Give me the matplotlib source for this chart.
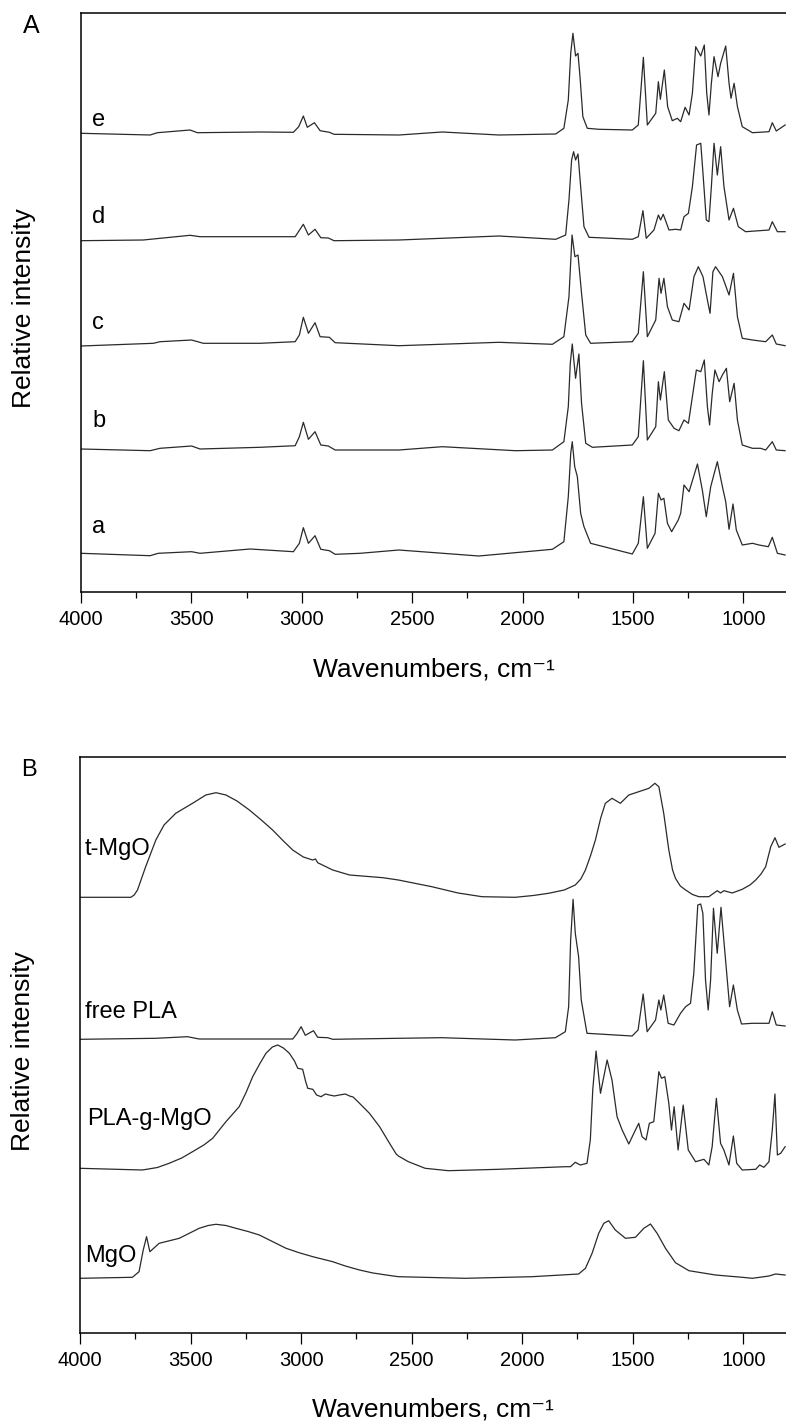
import numpy as np
import matplotlib.pyplot as plt
from matplotlib.ticker import MultipleLocator

plt.rcParams['font.family'] = ['Liberation Sans', 'DejaVu Sans']

# FTIR spectra, (wavenumber cm-1, stacked intensity a.u.)
# Panel A: PLA samples a-e
spec_a = [(4000, 38.7), (3687, 36.3), (3650, 38.7), (3499, 40.3), (3461, 38.7), (3234, 43), (3038, 40.3),
          (3011, 48.7), (2993, 64.3), (2970, 48.7), (2940, 56.3), (2914, 42.7), (2875, 41.3), (2849, 37.7),
          (2736, 38.7), (2560, 42), (2198, 36), (1865, 42.7), (1813, 50.3), (1793, 95.3), (1782, 138.7),
          (1775, 150.3), (1764, 125.3), (1752, 115.3), (1737, 78.7), (1722, 65.3), (1692, 48.7), (1503, 38),
          (1476, 48.7), (1453, 95.3), (1435, 43.7), (1400, 58.7), (1385, 98.7), (1373, 92), (1360, 93.7),
          (1344, 68.7), (1325, 60.3), (1295, 72), (1284, 78.7), (1269, 107), (1246, 100.3), (1208, 128),
          (1186, 102), (1168, 75.3), (1148, 105.3), (1118, 130.3), (1095, 105.3), (1080, 90.3), (1065, 62.7),
          (1047, 88), (1032, 62), (1005, 47), (959, 48.7), (929, 47), (887, 45.3), (869, 54.7), (846, 38.7),
          (811, 37)]
spec_b = [(4000, 143), (3687, 141.3), (3642, 143.7), (3499, 146), (3461, 143), (3189, 144.7), (3030, 146.3),
          (3011, 155.3), (2993, 169.7), (2970, 152.7), (2940, 160.3), (2914, 147), (2880, 146), (2849, 142),
          (2560, 142), (2364, 145.3), (2032, 141.3), (1865, 142), (1813, 150.3), (1793, 185.3), (1784, 228.7),
          (1775, 248), (1760, 213.7), (1745, 238), (1733, 188.7), (1714, 148.7), (1684, 144.7), (1503, 147),
          (1476, 155.3), (1453, 231.3), (1435, 152), (1397, 165.3), (1385, 210.3), (1376, 192), (1358, 220.3),
          (1340, 172), (1314, 163.7), (1292, 161.3), (1269, 172), (1249, 168.7), (1231, 195.3), (1213, 222),
          (1193, 220.3), (1177, 232), (1163, 185.3), (1153, 167), (1141, 198.7), (1129, 222), (1110, 210.3),
          (1095, 217), (1077, 223.7), (1062, 190.3), (1042, 208.7), (1027, 172), (1005, 147), (959, 143.7),
          (922, 143.7), (899, 142), (869, 150.3), (851, 142), (811, 141.3)]
spec_c = [(4000, 246), (3672, 248.7), (3642, 250.3), (3499, 252), (3446, 248.7), (3189, 248.7), (3030, 250.3),
          (3011, 257), (2993, 274.7), (2970, 258.7), (2940, 269.3), (2917, 255.3), (2875, 254.7), (2849, 249.3),
          (2560, 246.3), (2107, 249.7), (1865, 247.7), (1813, 255.3), (1790, 295.3), (1776, 357), (1763, 335.3),
          (1749, 337), (1733, 298.7), (1714, 257), (1692, 248.7), (1503, 250.3), (1476, 258.7), (1453, 320.3),
          (1435, 255.3), (1397, 272), (1382, 313.7), (1373, 298.7), (1360, 313.7), (1344, 285.3), (1322, 272),
          (1292, 270.3), (1269, 288.7), (1246, 282), (1224, 315.3), (1204, 325.3), (1183, 315.3), (1163, 292),
          (1151, 278.7), (1138, 320.3), (1126, 325.3), (1095, 315.3), (1065, 297), (1045, 318.7), (1027, 275.3),
          (1005, 253.7), (959, 252), (899, 250.3), (869, 257), (851, 248), (811, 246.3)]
spec_d = [(4000, 351.3), (3718, 352), (3506, 356.7), (3461, 355.3), (3189, 355.3), (3030, 355.3), (2993, 367.7),
          (2970, 357), (2940, 362.7), (2914, 354.3), (2880, 354), (2854, 351.3), (2560, 352), (2107, 356),
          (1850, 352.7), (1805, 357), (1790, 392), (1778, 432), (1769, 440.3), (1760, 432), (1749, 438),
          (1737, 405.3), (1722, 365.3), (1699, 354.7), (1503, 352.7), (1476, 355.3), (1455, 381.3), (1440, 353.7),
          (1405, 362), (1385, 377), (1375, 372), (1363, 377.7), (1337, 362), (1307, 362.7), (1284, 362),
          (1269, 375.3), (1249, 378.7), (1231, 405.3), (1212, 447), (1193, 448.7), (1183, 418.7), (1168, 372),
          (1156, 370.3), (1145, 405.3), (1133, 448.7), (1118, 417), (1103, 445.3), (1088, 405.3), (1065, 372),
          (1045, 383.7), (1023, 365.3), (990, 360.3), (884, 362), (869, 370.3), (846, 360.3), (811, 360.3)]
spec_e = [(4000, 458.7), (3687, 457), (3654, 459.3), (3506, 462), (3473, 459.3), (3189, 460), (3038, 459.7),
          (3014, 465.3), (2993, 476), (2975, 464.7), (2943, 469.3), (2917, 461.3), (2875, 459.7), (2854, 457.7),
          (2560, 457), (2364, 460), (2107, 457), (1850, 458), (1813, 463.7), (1793, 492), (1782, 538.7),
          (1772, 558.7), (1760, 536), (1749, 538.7), (1740, 515.3), (1727, 475.3), (1707, 463.7), (1654, 462.7),
          (1503, 462), (1476, 467), (1453, 534.7), (1435, 467), (1397, 478.7), (1385, 510.3), (1376, 492.7),
          (1358, 522), (1343, 485.3), (1322, 471.3), (1299, 473.7), (1284, 470.3), (1264, 484.7), (1246, 477),
          (1231, 498.7), (1216, 545.3), (1193, 536), (1177, 547), (1166, 498.7), (1156, 477), (1145, 508.7),
          (1133, 535.3), (1115, 515.3), (1103, 528.7), (1080, 546), (1065, 508.7), (1056, 493.7), (1042, 508.7),
          (1027, 485.3), (1005, 465.3), (959, 459.3), (884, 460.3), (869, 469.3), (851, 461), (811, 467)]

# Panel B: MgO, PLA-g-MgO, free PLA, t-MgO
spec_mgo = [(4000, 54.7), (3763, 55.7), (3733, 61.3), (3714, 83), (3699, 96.3), (3684, 81.3), (3642, 89.7),
            (3551, 94.7), (3461, 104.7), (3420, 107.5), (3385, 108.7), (3340, 107.5), (3295, 104.7), (3240, 101.5),
            (3189, 98), (3130, 91.5), (3068, 84.7), (3005, 80), (2947, 76.3), (2857, 71.3), (2800, 67),
            (2736, 63), (2675, 60), (2615, 58), (2560, 56.3), (2258, 54.7), (1956, 56.3), (1745, 59),
            (1714, 64.7), (1684, 79.7), (1654, 99.7), (1631, 109.7), (1609, 112.3), (1579, 103), (1533, 94.7),
            (1488, 95.7), (1450, 104.7), (1420, 109), (1390, 99.7), (1352, 84.7), (1307, 70.3), (1246, 62.3),
            (1126, 58), (1005, 55.7), (959, 54.7), (884, 57), (854, 59), (811, 58)]
spec_gmgo = [(4000, 164.7), (3718, 163), (3650, 165.5), (3597, 169.7), (3540, 175), (3491, 181.3), (3440, 188),
             (3400, 194.7), (3340, 211.3), (3280, 226.3), (3250, 240), (3219, 256.3), (3185, 270), (3159, 279.7),
             (3130, 286), (3106, 288), (3080, 285), (3053, 279.7), (3030, 272), (3015, 264.7), (2993, 263.7),
             (2980, 252), (2970, 244.7), (2947, 243.7), (2930, 238), (2910, 236.3), (2890, 239), (2872, 238),
             (2850, 237), (2827, 238), (2800, 239), (2781, 237), (2765, 236), (2743, 231.3), (2691, 219.7),
             (2645, 206.3), (2600, 189.7), (2570, 179), (2560, 177), (2515, 171.3), (2439, 164.7),
             (2334, 162.3), (2107, 163.7), (1805, 166.3), (1782, 166.3), (1760, 170.7), (1737, 168), (1707, 169.7),
             (1692, 193), (1681, 243), (1666, 282), (1646, 239.7), (1616, 273), (1594, 253), (1571, 216.3),
             (1548, 203), (1518, 189), (1488, 203), (1473, 209.7), (1458, 196.3), (1440, 193), (1425, 209.7),
             (1405, 211.3), (1382, 261.3), (1370, 254.7), (1355, 256.3), (1337, 229.7), (1325, 203), (1313, 226.3),
             (1295, 183), (1272, 228), (1249, 183), (1216, 171.3), (1178, 173.7), (1156, 168), (1141, 186.3),
             (1122, 234.7), (1103, 189.7), (1088, 183), (1065, 168), (1045, 197), (1030, 169.7), (1005, 163),
             (944, 163.7), (926, 168), (907, 165.7), (884, 171.3), (869, 203), (857, 239), (846, 178), (831, 179.7),
             (811, 186.3)]
spec_pla = [(4000, 293.7), (3657, 294.7), (3514, 296.3), (3461, 294), (3038, 294), (3020, 299), (3000, 306.3),
            (2981, 297.7), (2944, 302.3), (2925, 295.7), (2880, 295.3), (2857, 293.7), (2560, 294.7), (2364, 295.3),
            (2032, 293), (1850, 295.3), (1805, 301.3), (1790, 326.3), (1781, 393), (1770, 433.7), (1760, 399.7),
            (1745, 376.3), (1733, 333), (1707, 299.7), (1579, 298), (1503, 297), (1476, 303), (1453, 339),
            (1435, 301.3), (1397, 313), (1382, 333), (1373, 323), (1360, 338), (1340, 309.7), (1314, 308),
            (1284, 319.7), (1261, 326.3), (1239, 329.7), (1224, 359.7), (1206, 428), (1193, 429), (1183, 419.7),
            (1171, 353), (1159, 323), (1148, 353), (1135, 424.7), (1118, 379.7), (1101, 425.7), (1083, 379.7),
            (1062, 326.3), (1045, 348), (1027, 323), (1008, 309), (959, 309.7), (884, 309.7), (869, 321.3),
            (851, 308), (811, 307)]
spec_tmgo = [(4000, 435.7), (3770, 435.7), (3755, 438), (3740, 443), (3703, 466.3), (3657, 493), (3620, 508),
             (3567, 519.7), (3491, 529.7), (3431, 538), (3385, 540.3), (3340, 538), (3290, 532), (3234, 523),
             (3180, 513), (3129, 503), (3080, 492), (3038, 483), (2990, 476), (2948, 473), (2935, 474),
             (2925, 470.3), (2857, 463), (2781, 458), (2630, 455.3), (2560, 453), (2409, 446.3), (2290, 440),
             (2182, 436.3), (2032, 435.7), (1950, 437.5), (1881, 439.7), (1810, 443), (1760, 448), (1735, 454),
             (1714, 463), (1690, 478), (1669, 493), (1645, 515), (1624, 529.7), (1594, 534.7), (1556, 529.7),
             (1518, 538), (1473, 541.3), (1427, 544.7), (1400, 549.7), (1382, 546.3), (1360, 519.7), (1337, 483),
             (1320, 463), (1307, 454.7), (1285, 447), (1261, 443), (1230, 438.5), (1201, 436.3), (1156, 436.3),
             (1118, 442.3), (1103, 440), (1088, 442.3), (1050, 440), (1005, 443.7), (970, 448), (944, 453),
             (920, 459), (899, 466.3), (876, 486.3), (857, 495.3), (839, 485.7), (811, 489)]

labels_A = ['a', 'b', 'c', 'd', 'e']
labels_B = ['MgO', 'PLA-g-MgO', 'free PLA', 't-MgO']
# where the curve names sit (wavenumber, intensity)
labelpos_A = [(3950, 59), (3950, 165), (3950, 263), (3950, 369), (3950, 466)]
labelpos_B = [(3977, 71), (3970, 208), (3977, 315), (3977, 478)]

fig = plt.figure(figsize=(7.86, 14.24), dpi=100)
axA = fig.add_axes([81/786, 1-592/1424, 705/786, 579/1424])
axB = fig.add_axes([80/786, 1-1333/1424, 706/786, 576/1424])


def setup(ax, spectra, labels, labelpos, ymax):
    for pts in spectra:
        wn, y = zip(*pts)
        ax.plot(wn, y, color='#2a2a2a', lw=0.9)
    for lab, (x, y) in zip(labels, labelpos):
        ax.text(x, y, lab, fontsize=17, ha='left', va='baseline')
    ax.set_xlim(4000, 807)
    ax.set_ylim(0, ymax)
    ax.set_xticks(np.arange(4000, 999, -500))
    ax.xaxis.set_minor_locator(MultipleLocator(250))
    ax.tick_params(axis='x', which='major', direction='out', length=8, width=0.9, labelsize=14.5, pad=5)
    ax.tick_params(axis='x', which='minor', direction='out', length=4.3, width=0.9)
    ax.set_yticks([])
    ax.spines['right'].set_visible(False)
    for s in ['left', 'top', 'bottom']:
        ax.spines[s].set_linewidth(1.1)
    # superscript drawn with unicode chars so the sign is a short hyphen like the original
    ax.set_xlabel('Wavenumbers, cm\u207b\u00b9', fontsize=19)
    ax.xaxis.label.set_va('baseline')
    ax.xaxis.set_label_coords(0.5, -84/ymax)
    ax.set_ylabel('Relative intensity', fontsize=19)
    ax.yaxis.set_label_coords(-45/705, 0.49)


setup(axA, [spec_a, spec_b, spec_c, spec_d, spec_e], labels_A, labelpos_A, 579)
setup(axB, [spec_mgo, spec_gmgo, spec_pla, spec_tmgo], labels_B, labelpos_B, 576)

fig.text(23/786, 1-33/1424, 'A', fontsize=18)
fig.text(21/786, 1-776/1424, 'B', fontsize=17)

fig.savefig('out.png', dpi=100)
